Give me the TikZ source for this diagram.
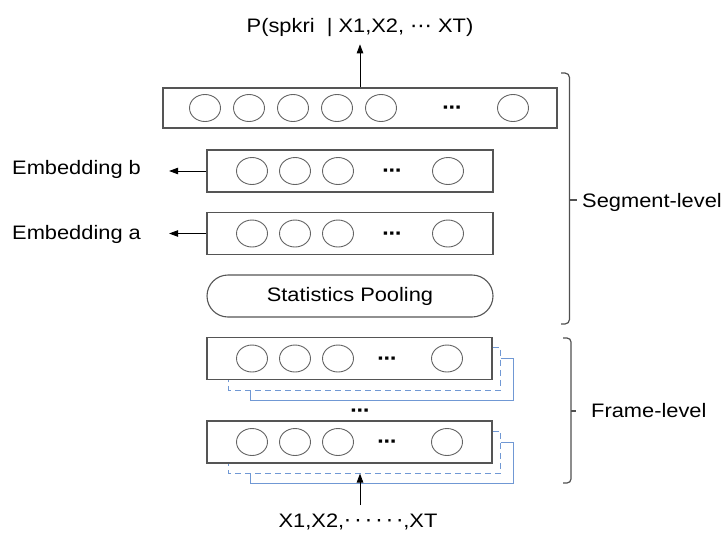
\documentclass[tikz,border=0pt]{standalone}
\usepackage{fontspec}
\setmainfont{Liberation Sans}[FakeStretch=1.12]
\newfontfamily\symf{DejaVu Sans}[FakeStretch=1.12]
\usetikzlibrary{shapes.geometric,arrows.meta,calc}

\definecolor{boxgray}{RGB}{85,85,85}
\definecolor{unitgray}{RGB}{100,100,100}
\definecolor{blueline}{RGB}{112,152,212}
\definecolor{bracegray}{RGB}{80,80,80}

\begin{document}
\begin{tikzpicture}[x=1pt,y=-1pt,
  lbl/.style={font=\fontsize{19.5}{22}\selectfont, inner sep=0pt},
  layer/.style={draw=boxgray, line width=1.1pt, minimum width=286pt,
    minimum height=42pt, inner sep=0pt, font=\fontsize{19.5}{22}\selectfont},
  unit/.style={ellipse, draw=unitgray, line width=0.9pt, minimum width=31pt,
    minimum height=27pt, inner sep=0pt},
  dots/.style={font=\symf\bfseries\fontsize{17}{20}\selectfont, inner sep=0pt, yshift=-2pt},
  arr/.style={draw=black, line width=0.9pt, -{Triangle[length=9pt,width=6.5pt]}},
  shadowline/.style={draw=blueline, line width=1pt},
  brace/.style={draw=bracegray, line width=1.2pt},
]
\useasboundingbox[fill=white] (0,0) rectangle (725,536);

% ---- output layer ----
\node[layer, minimum width=394pt, minimum height=40pt] (top) at (360,108) {};
\foreach \x [count=\i] in {205,249,293,337,381,513}
  \node[unit] (tu\i) at (\x,108) {};
\node[dots] (tdots) at (452,108) {⋯};
\node[lbl, anchor=base] (title) at (360,32) {P(spkri\ \ | X1,X2, {\symf ⋯} XT)};
\draw[arr, shorten >=8pt] (top.north) -- (title.south);

% ---- embedding layers ----
\node[layer] (eb) at (350,171) {};
\node[layer] (ea) at (350,233.5) {};
\foreach \y/\n in {171/b,233.5/a} {
  \foreach \x [count=\i] in {252,295,338,448}
    \node[unit] (u\n\i) at (\x,\y) {};
  \node[dots] (d\n) at (392,\y) {⋯};
}
\node[lbl, anchor=base west] (ebl) at (12,174) {Embedding b};
\node[lbl, anchor=base west] (eal) at (12,239) {Embedding a};
\draw[arr, shorten >=28pt] (eb.west) -- (eb.west -| ebl.east);
\draw[arr, shorten >=28pt] (ea.west) -- (ea.west -| eal.east);

% ---- statistics pooling ----
\node[layer, rounded corners=21pt] (pool) at (350,296) {Statistics Pooling};

% ---- frame-level layers with stacked copies behind them ----
\node[layer, minimum width=285pt] (f1) at (349.5,358.5) {};
\node[layer, minimum width=285pt] (f2) at (349.5,442) {};
\foreach \f/\y in {f1/358.5,f2/442} {
  \foreach \x [count=\i] in {252,295,338,447}
    \node[unit] (\f u\i) at (\x,\y) {};
  \node[dots] (\f d) at (387,\y) {⋯};
  \draw[shadowline, dash pattern=on 6pt off 4pt]
    ($(\f.north east)+(0,11)$) -- ++(8,0) |- ($(\f.south west)+(22,10)$)
    -- ($(\f.south west)+(22,0)$);
  \draw[shadowline]
    ($(\f.north east)+(8,22)$) -- ++(13,0) |- ($(\f.south west)+(44,20)$)
    -- ($(\f.south west)+(44,10)$);
}
\node[dots] (fmid) at (360,411) {⋯};

\node[lbl, anchor=base] (inp) at (358,527)
  {X1,X2,{\symf ·\hspace{3.5pt}·\hspace{3.5pt}·\hspace{3.5pt}·\hspace{3.5pt}·\hspace{3.5pt}·},XT};
\coordinate (inbase) at ($(inp.north -| top.south)+(0,-8)$);
\draw[arr] (inbase) -- ($(f2.south -| top.south)+(0,10)$);

% ---- level brackets ----
\draw[brace] (561,73) -- (565,73) to[out=0,in=90] (569.5,77.5) -- (569.5,319.5)
  to[out=-90,in=0] (565,324) -- (561,324);
\draw[bracegray, line width=2.2pt] (569.5,200) -- (577,200);
\node[lbl, anchor=base west] (seg) at (582,207) {Segment-level};

\draw[brace] (563,338) -- (567,338) to[out=0,in=90] (571,342) -- (571,479)
  to[out=-90,in=0] (567,483) -- (563,483);
\draw[bracegray, line width=1.4pt] (571,411) -- (576,411);
\node[lbl, anchor=base west] (frm) at (591,417) {Frame-level};
\end{tikzpicture}
\end{document}
